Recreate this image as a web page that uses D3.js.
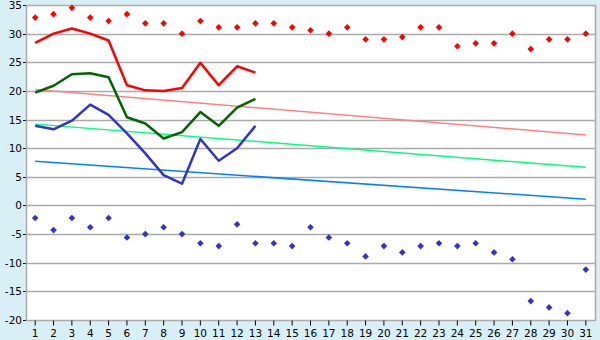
<!DOCTYPE html>
<html>
<head>
<meta charset="utf-8">
<script src="https://cdn.jsdelivr.net/npm/d3@7"></script>
<style>
	body { margin: 0; background: #d8eff6; }
	svg { display: block; }
</style>
</head>
<body>
<svg id="chart" width="600" height="340"></svg>
<script>
// ---- data ----
let days = [1,2,3,4,5,6,7,8,9,10,11,12,13,14,15,16,17,18,19,20,21,22,23,24,25,26,27,28,29,30,31];
let yTicks = [-20,-15,-10,-5,0,5,10,15,20,25,30,35];

let maxPoints = [32.8,33.4,34.5,32.8,32.2,33.4,31.8,31.8,30.0,32.2,31.1,31.1,31.8,31.8,31.1,30.6,30.0,31.1,29.0,29.0,29.4,31.1,31.1,27.8,28.3,28.3,30.0,27.3,29.0,29.0,30.0];
let minPoints = [-2.2,-4.3,-2.2,-3.8,-2.2,-5.6,-5.0,-3.8,-5.0,-6.6,-7.1,-3.3,-6.6,-6.6,-7.1,-3.8,-5.6,-6.6,-8.9,-7.1,-8.2,-7.1,-6.6,-7.1,-6.6,-8.2,-9.4,-16.7,-17.8,-18.8,-11.2];

let redLine = [28.4,30.0,30.9,30.0,28.8,21.0,20.1,20.0,20.5,24.9,21.0,24.3,23.2];
let greenLine = [19.7,20.9,22.9,23.1,22.4,15.4,14.3,11.7,12.8,16.3,13.9,17.1,18.6];
let blueLine = [13.9,13.3,14.8,17.6,15.8,12.6,9.1,5.3,3.8,11.6,7.8,10.0,13.9];

// trend lines, value at first and last day
let trendDays = [1, 31];
let redTrend = [20.25, 12.3];
let greenTrend = [14.2, 6.65];
let blueTrend = [7.7, 1.1];

// ---- chart ----
let plot = { left: 26, right: 595, top: 5, bottom: 320 };

let x = d3.scaleBand().domain(days).range([plot.left, plot.right]);
let y = d3.scaleLinear().domain([-20, 35]).range([plot.bottom, plot.top]);
let cx = function(d) { return x(d) + x.bandwidth() / 2; };

let svg = d3.select("#chart");

svg.append("rect")
	.attr("x", plot.left).attr("y", plot.top)
	.attr("width", plot.right - plot.left).attr("height", plot.bottom - plot.top)
	.attr("fill", "#fff");

// gridlines
svg.append("g").selectAll("line").data(yTicks).enter().append("line")
	.attr("x1", plot.left).attr("x2", plot.right)
	.attr("y1", function(d) { return Math.round(y(d)) + 0.5; })
	.attr("y2", function(d) { return Math.round(y(d)) + 0.5; })
	.attr("stroke", "#aaa").attr("stroke-width", 1.5);

// left ticks
svg.append("g").selectAll("line").data(yTicks).enter().append("line")
	.attr("x1", plot.left - 3).attr("x2", plot.left)
	.attr("y1", function(d) { return Math.round(y(d)) + 0.5; })
	.attr("y2", function(d) { return Math.round(y(d)) + 0.5; })
	.attr("stroke", "#000");

// frame
svg.append("line").attr("x1", plot.left + 0.5).attr("x2", plot.left + 0.5)
	.attr("y1", plot.top).attr("y2", plot.bottom + 1).attr("stroke", "#aaa").attr("stroke-width", 1.5);
svg.append("line").attr("x1", plot.right + 0.5).attr("x2", plot.right + 0.5)
	.attr("y1", plot.top).attr("y2", plot.bottom + 1).attr("stroke", "#aaa").attr("stroke-width", 1.5);

// y labels
svg.append("g").selectAll("text").data(yTicks).enter().append("text")
	.attr("x", 22).attr("y", function(d) { return y(d) + 4; })
	.attr("text-anchor", "end")
	.attr("font-family", "DejaVu Sans").attr("font-size", 10.5)
	.attr("fill", "#000")
	.text(function(d) { return d; });

// x axis
let xAxis = d3.axisBottom(x).tickSize(5).tickPadding(4);
let gx = svg.append("g").attr("transform", "translate(0," + (plot.bottom + 0.5) + ")").call(xAxis);
gx.select(".domain").remove();
gx.selectAll("line").attr("stroke", "#000");
gx.selectAll("text").attr("font-family", "DejaVu Sans").attr("font-size", 10.5).attr("fill", "#000");

// trend lines
let trendLine = d3.line()
	.x(function(d, i) { return cx(trendDays[i]); })
	.y(function(d) { return y(d); });

let trends = [
	{ values: redTrend, color: "#ff8080" },
	{ values: greenTrend, color: "#00ff80" },
	{ values: blueTrend, color: "#0080ff" }
];
svg.append("g").selectAll("path").data(trends).enter().append("path")
	.attr("d", function(d) { return trendLine(d.values); })
	.attr("fill", "none")
	.attr("stroke", function(d) { return d.color; })
	.attr("stroke-width", 1.5);

// series lines
let seriesLine = d3.line()
	.x(function(d, i) { return cx(days[i]); })
	.y(function(d) { return y(d); });

let series = [
	{ values: redLine, color: "#ff0000" },
	{ values: greenLine, color: "#006400" },
	{ values: blueLine, color: "#3333cc" }
];
svg.append("g").selectAll("path").data(series).enter().append("path")
	.attr("d", function(d) { return seriesLine(d.values); })
	.attr("fill", "none")
	.attr("stroke", function(d) { return d.color; })
	.attr("stroke-width", 2.5)
	.attr("stroke-linejoin", "round");

// markers
let marker = d3.symbol().type(d3.symbolDiamond2).size(28);

svg.append("g").selectAll("path").data(maxPoints).enter().append("path")
	.attr("d", marker)
	.attr("transform", function(d, i) { return "translate(" + cx(days[i]) + "," + y(d) + ")"; })
	.attr("fill", "#ff0000");

svg.append("g").selectAll("path").data(minPoints).enter().append("path")
	.attr("d", marker)
	.attr("transform", function(d, i) { return "translate(" + cx(days[i]) + "," + y(d) + ")"; })
	.attr("fill", "#3333cc");
</script>
</body>
</html>
